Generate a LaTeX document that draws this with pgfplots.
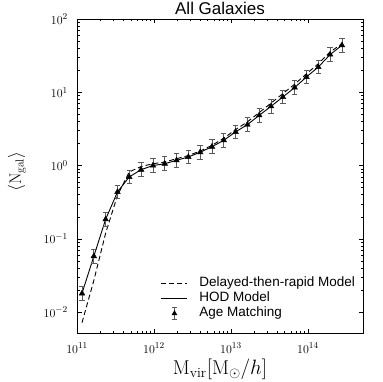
\documentclass[border=0pt]{standalone}
\usepackage{pgfplots}
\pgfplotsset{compat=1.18}
\usepackage{fontspec}
\newfontfamily\helv{Liberation Sans}
\pgfplotsset{
    linelegend/.style={legend image code/.code={%
        \draw[##1] (0pt,0pt) -- (26pt,0pt);
        \path[draw=none, fill=none] (0pt,0pt) -- (37pt,0pt);}},
    errlegend/.style={legend image code/.code={%
        \draw[gray!70!black, line width=0.8pt] (13pt,-6pt) -- (13pt,6pt)
            (10.3pt,-6pt) -- (15.7pt,-6pt) (10.3pt,6pt) -- (15.7pt,6pt);
        \fill[black, draw=none] (13pt,3.3pt) -- (10.14pt,-1.65pt) -- (15.86pt,-1.65pt) -- cycle;
        \path[draw=none, fill=none] (0pt,0pt) -- (37pt,0pt);}},
}
\begin{document}
\begin{tikzpicture}
\path[use as bounding box] (0,0) rectangle (382pt,382pt);
\begin{axis}[
    at={(77pt,49pt)}, anchor=south west,
    scale only axis, width=286pt, height=314pt,
    xmode=log, ymode=log,
    xmin=1e11, xmax=5.2e14, ymin=0.0052, ymax=100,
    xtick={1e11,1e12,1e13,1e14}, ytick={1e-2,1e-1,1,1e1,1e2},
    axis line style={line width=0.9pt},
    tick style={black, line width=0.6pt},
    major tick length=4.5pt, minor tick length=2.5pt,
    tick label style={font=\fontsize{13}{15}\selectfont},
    xticklabel style={anchor=base, yshift=-20pt},
    yticklabel style={anchor=east, inner sep=0pt, xshift=-9pt},
    title={All Galaxies},
    title style={at={(axis description cs:0.5,1)}, anchor=base, yshift=-2pt,
        font=\helv\fontsize{17}{20}\selectfont},
    xlabel={$\mathrm{M}_{\mathrm{vir}}[\mathrm{M}_{\odot}/h]$},
    xlabel style={at={(axis description cs:0.5,0)}, anchor=base, yshift=-41pt,
        font=\fontsize{20}{24}\selectfont},
    ylabel={$\langle\mathrm{N}_{\mathrm{gal}}\rangle$},
    ylabel style={at={(axis description cs:-0.21,0.514)}, anchor=center,
        font=\fontsize{16.5}{19}\selectfont},
    legend cell align=left,
    legend style={at={(0.9755,0.038)}, anchor=south east, draw=none, fill=none,
        inner sep=0pt, row sep=0pt,
        font=\helv\fontsize{13.5}{15}\selectfont,
        nodes={inner sep=1pt, text height=10pt, text depth=3pt}},
]
\addplot[black, line width=0.9pt, dash pattern=on 5pt off 3pt, linelegend]
coordinates {
    (1.161e11,0.0072) (1.654e11,0.027) (2.355e11,0.12) (3.354e11,0.39)
    (4.775e11,0.82) (6.800e11,0.97) (9.683e11,1.06) (1.379e12,1.12)
    (1.963e12,1.24) (2.796e12,1.37) (3.981e12,1.58) (5.669e12,1.89)
    (8.072e12,2.36) (1.149e13,3.1) (1.637e13,3.95) (2.331e13,5.3)
    (3.319e13,7.1) (4.726e13,9.6) (6.730e13,12.9) (9.583e13,17.9)
    (1.365e14,24.5) (1.943e14,35.5) (2.767e14,46)
};
\addlegendentry{Delayed-then-rapid Model}
\addplot[black, line width=0.9pt, linelegend]
coordinates {
    (1.161e11,0.018) (1.654e11,0.058) (2.355e11,0.185) (3.354e11,0.436)
    (4.775e11,0.70) (6.800e11,0.88) (9.683e11,1.00) (1.379e12,1.06)
    (1.963e12,1.18) (2.796e12,1.31) (3.981e12,1.52) (5.669e12,1.81)
    (8.072e12,2.21) (1.149e13,2.88) (1.637e13,3.62) (2.331e13,4.85)
    (3.319e13,6.44) (4.726e13,8.63) (6.730e13,11.6) (9.583e13,16.2)
    (1.365e14,22.1) (1.943e14,32.7) (2.767e14,43.8)
};
\addlegendentry{HOD Model}
\addplot[only marks, mark=triangle*, mark size=3.3pt, black, errlegend,
    error bars/.cd, y dir=both, y explicit relative,
    error bar style={gray!70!black, line width=0.8pt},
    error mark options={rotate=90, mark size=2.7pt, line width=0.8pt, gray!70!black}]
coordinates {
    (1.161e11,0.018) += (0,0.24) -= (0,0.19)
    (1.654e11,0.058) += (0,0.24) -= (0,0.19)
    (2.355e11,0.185) += (0,0.24) -= (0,0.19)
    (3.354e11,0.436) += (0,0.24) -= (0,0.19)
    (4.775e11,0.70) += (0,0.24) -= (0,0.19)
    (6.800e11,0.88) += (0,0.24) -= (0,0.19)
    (9.683e11,1.00) += (0,0.24) -= (0,0.19)
    (1.379e12,1.06) += (0,0.24) -= (0,0.19)
    (1.963e12,1.18) += (0,0.24) -= (0,0.19)
    (2.796e12,1.31) += (0,0.24) -= (0,0.19)
    (3.981e12,1.52) += (0,0.24) -= (0,0.19)
    (5.669e12,1.81) += (0,0.24) -= (0,0.19)
    (8.072e12,2.21) += (0,0.24) -= (0,0.19)
    (1.149e13,2.88) += (0,0.24) -= (0,0.19)
    (1.637e13,3.62) += (0,0.24) -= (0,0.19)
    (2.331e13,4.85) += (0,0.24) -= (0,0.19)
    (3.319e13,6.44) += (0,0.24) -= (0,0.19)
    (4.726e13,8.63) += (0,0.24) -= (0,0.19)
    (6.730e13,11.6) += (0,0.24) -= (0,0.19)
    (9.583e13,16.2) += (0,0.24) -= (0,0.19)
    (1.365e14,22.1) += (0,0.24) -= (0,0.19)
    (1.943e14,32.7) += (0,0.24) -= (0,0.19)
    (2.767e14,43.8) += (0,0.24) -= (0,0.19)
};
\addlegendentry{Age Matching}
\end{axis}
\end{tikzpicture}
\end{document}
